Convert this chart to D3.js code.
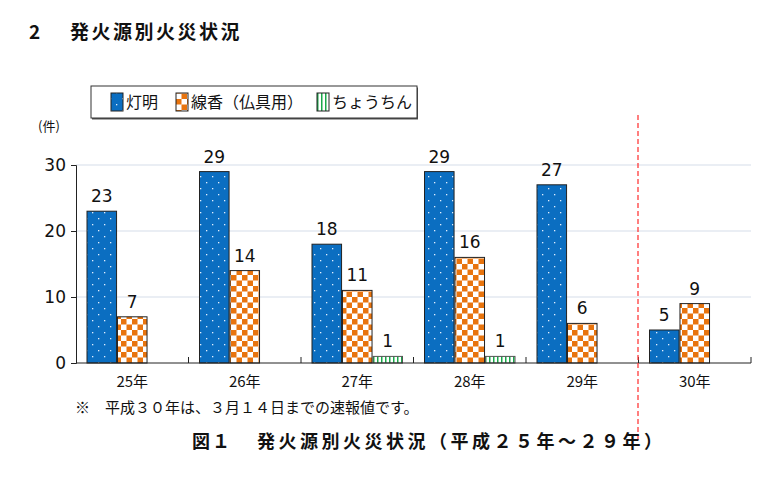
<!DOCTYPE html>
<html><head><meta charset="utf-8">
<script src="https://cdn.jsdelivr.net/npm/d3@7"></script>
<style>body{margin:0;background:#fff;} svg{display:block;}</style>
</head><body>
<svg id="c" width="768" height="500"></svg>
<script>
const categories = ["25年","26年","27年","28年","29年","30年"];
const seriesNames = ["灯明","線香（仏具用）","ちょうちん"];
const toumyou = [23,29,18,29,27,5];
const senkou = [7,14,11,16,6,9];
const chouchin = [null,null,1,1,null,null];
const yTicks = [0,10,20,30];

const svg = d3.select("#c");
const JP = "'Noto Sans CJK JP','Noto Sans',sans-serif";
const NUM = "'DejaVu Sans',sans-serif";
const defs = svg.append("defs");
// patterns
const pBlue = defs.append("pattern").attr("id","pBlue").attr("patternUnits","userSpaceOnUse").attr("width",12).attr("height",12);
pBlue.append("rect").attr("width",12).attr("height",12).attr("fill","#0b6ec1");
[[2,2],[8,8]].forEach(([x,y])=>pBlue.append("rect").attr("x",x).attr("y",y).attr("width",1.3).attr("height",1.3).attr("fill","#dfeeff"));
const pOr = defs.append("pattern").attr("id","pOr").attr("patternUnits","userSpaceOnUse").attr("width",11).attr("height",11);
pOr.append("rect").attr("width",11).attr("height",11).attr("fill","#fff");
pOr.append("rect").attr("width",5.5).attr("height",5.5).attr("fill","#e8740e");
pOr.append("rect").attr("x",5.5).attr("y",5.5).attr("width",5.5).attr("height",5.5).attr("fill","#e8740e");
const pGr = defs.append("pattern").attr("id","pGr").attr("patternUnits","userSpaceOnUse").attr("width",4).attr("height",4);
pGr.append("rect").attr("width",4).attr("height",4).attr("fill","#fff");
pGr.append("rect").attr("x",1).attr("width",1.5).attr("height",4).attr("fill","#1aa84a");
const fills = ["url(#pBlue)","url(#pOr)","url(#pGr)"];

const x0 = d3.scaleBand().domain(categories).range([76,751]).paddingInner(0).paddingOuter(0);
const y = d3.scaleLinear().domain([0,30]).range([363,165]);
const x1 = d3.scaleBand().domain([0,1,2]).range([11, x0.bandwidth()-11]).paddingInner(0.03);

// gridlines
svg.append("g").selectAll("line").data(yTicks.filter(d=>d>0)).join("line")
  .attr("x1",76).attr("x2",751).attr("y1",d=>y(d)).attr("y2",d=>y(d))
  .attr("stroke","#d5dde9").attr("stroke-width",1.2);

// y axis
const ya = svg.append("g").attr("transform","translate(76,0)")
  .call(d3.axisLeft(y).tickValues(yTicks).tickSize(5).tickPadding(5));
ya.select(".domain").attr("stroke","#222");
ya.selectAll("line").attr("stroke","#222");
ya.selectAll("text").attr("font-family",NUM).attr("font-size",17).attr("fill","#111");

// bars
const series = [toumyou, senkou, chouchin];
const g = svg.append("g");
categories.forEach((c,i)=>{
  series.forEach((s,k)=>{
    const v = s[i];
    if(v==null) return;
    const bx = x0(c)+x1(k);
    g.append("rect").attr("x",bx).attr("y",y(v)).attr("width",x1.bandwidth()).attr("height",y(0)-y(v))
      .attr("fill",fills[k]).attr("stroke",k==2?"#555":"#222").attr("stroke-width",1);
    g.append("text").attr("x",bx+x1.bandwidth()/2).attr("y",y(v)-9).attr("text-anchor","middle")
      .attr("font-family",NUM).attr("font-size",17).attr("fill","#111").text(v);
  });
});

// x axis
svg.append("line").attr("x1",76).attr("x2",751).attr("y1",363).attr("y2",363).attr("stroke","#222");
svg.append("g").selectAll("line").data(categories.slice(1).concat(["end"])).join("line")
  .attr("x1",d=>d==="end"?751:x0(d)).attr("x2",d=>d==="end"?751:x0(d)).attr("y1",363).attr("y2",357).attr("stroke","#222");
svg.append("g").selectAll("text").data(categories).join("text")
  .attr("x",d=>x0(d)+x0.bandwidth()/2).attr("y",387).attr("text-anchor","middle")
  .attr("font-family",JP).attr("font-size",15).attr("fill","#111").text(d=>d);

// red dashed line
svg.append("line").attr("x1",638).attr("x2",638).attr("y1",115).attr("y2",440)
  .attr("stroke","#ff3b3b").attr("stroke-width",1.3).attr("stroke-dasharray","5,3");

// unit
svg.append("text").attr("x",38).attr("y",131).attr("font-family",JP).attr("font-size",13).attr("fill","#111").text("(件)");

// legend
svg.append("rect").attr("x",92).attr("y",87.5).attr("width",326).attr("height",32).attr("fill","#555");
svg.append("rect").attr("x",91).attr("y",86).attr("width",326).attr("height",32).attr("fill","#fff").attr("stroke","#333");
const legX = [111,176,317];
seriesNames.forEach((n,k)=>{
  svg.append("rect").attr("x",legX[k]).attr("y",93).attr("width",12).attr("height",18).attr("fill",fills[k]).attr("stroke","#222");
  svg.append("text").attr("x",legX[k]+15).attr("y",108).attr("font-family",JP).attr("font-size",16).attr("fill","#111").text(n);
});

// title
svg.append("text").attr("x",29).attr("y",39).attr("font-family",JP).attr("font-weight","bold").attr("font-size",19).attr("fill","#111").text("2");
svg.append("text").attr("x",70).attr("y",39).attr("font-family",JP).attr("font-weight","bold").attr("font-size",19).attr("letter-spacing",2.5).attr("fill","#111").text("発火源別火災状況");
// note
svg.append("text").attr("x",75).attr("y",413).attr("font-family",JP).attr("font-size",15).attr("fill","#111")
  .text("※　平成３０年は、３月１４日までの速報値です。");
// caption
svg.append("text").attr("x",192).attr("y",448).attr("font-family",JP).attr("font-weight","bold").attr("font-size",18).attr("letter-spacing",2).attr("fill","#111").text("図１");
svg.append("text").attr("x",257).attr("y",448).attr("font-family",JP).attr("font-weight","bold").attr("font-size",18).attr("letter-spacing",3.5).attr("fill","#111")
  .text("発火源別火災状況（平成２５年～２９年）");
</script>
</body></html>
